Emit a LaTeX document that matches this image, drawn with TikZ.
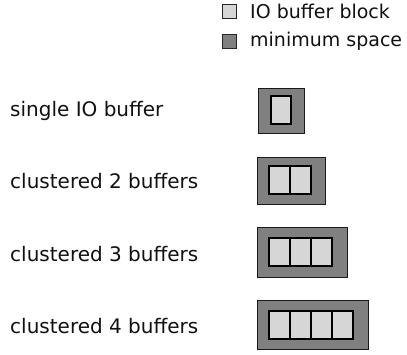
\documentclass[tikz,border=0pt]{standalone}
\usepackage{fontspec}
\setmainfont{DejaVu Sans}
\definecolor{spacegray}{HTML}{808080}
\definecolor{blockgray}{HTML}{D6D6D6}
\definecolor{txt}{HTML}{111111}
\begin{document}
\begin{tikzpicture}[x=1pt,y=-1pt,
  spacebox/.style={draw=black!90, line width=1pt, fill=spacegray, inner sep=0pt, rectangle},
  cellbox/.style={draw=black, line width=1.6pt, fill=blockgray, inner sep=0pt, rectangle, minimum width=21pt, minimum height=28pt},
  legbox/.style={draw=black!85, line width=1pt, inner sep=0pt, rectangle, minimum width=14pt, minimum height=14pt},
  lbl/.style={anchor=west, inner sep=0pt, text=txt, font=\fontsize{20}{24}\selectfont},
  leg/.style={anchor=west, inner sep=0pt, text=txt, font=\fontsize{19}{23}\selectfont}]
\useasboundingbox (0,0) rectangle (407,354);
\fill[white] (0,0) rectangle (407,354);
% legend
\node[legbox, fill=blockgray] (lb1) at (229.5,11) {};
\node[leg] (lt1) at (250,11) {IO buffer block};
\node[legbox, fill=spacegray] (lb2) at (229.5,41) {};
\node[leg] (lt2) at (250,41) {minimum space};
% labels
\node[lbl] (l1) at (10,110.5) {single IO buffer};
\node[lbl] (l2) at (10,181) {clustered 2 buffers};
\node[lbl] (l3) at (10,254) {clustered 3 buffers};
\node[lbl] (l4) at (10,326) {clustered 4 buffers};
% single
\node[spacebox, minimum width=46pt, minimum height=45pt] (o1) at (281,110.5) {};
\node[cellbox, minimum width=20pt] (c11) at (281,110) {};
% clustered 2
\node[spacebox, minimum width=68pt, minimum height=47pt] (o2) at (291,180.5) {};
\node[cellbox] (c21) at (279.5,180) {};
\node[cellbox] (c22) at (300.5,180) {};
% clustered 3
\node[spacebox, minimum width=90pt, minimum height=50pt] (o3) at (302,252) {};
\node[cellbox] (c31) at (279.5,252) {};
\node[cellbox] (c32) at (300.5,252) {};
\node[cellbox] (c33) at (321.5,252) {};
% clustered 4
\node[spacebox, minimum width=111pt, minimum height=49pt] (o4) at (312.5,324.5) {};
\node[cellbox] (c41) at (279.5,325) {};
\node[cellbox] (c42) at (300.5,325) {};
\node[cellbox] (c43) at (321.5,325) {};
\node[cellbox] (c44) at (342.5,325) {};
\end{tikzpicture}
\end{document}
